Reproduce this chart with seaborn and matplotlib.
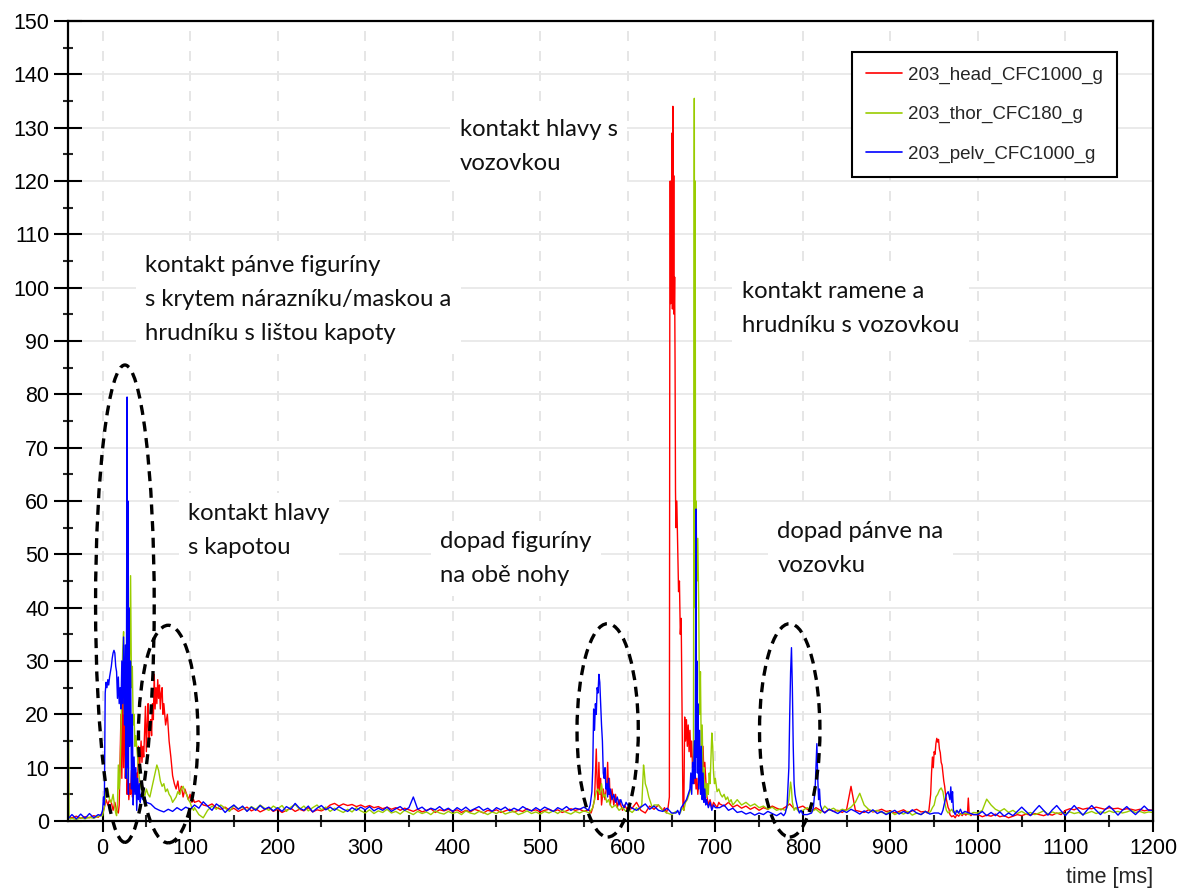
import numpy as np
import pandas as pd
import matplotlib
matplotlib.use("Agg")
import matplotlib.pyplot as plt
import seaborn as sns
from matplotlib.patches import Ellipse
from matplotlib.lines import Line2D
from matplotlib.ticker import MultipleLocator

# ---------------------------------------------------------------------------
# Channels of crash test 203 (acceleration in g versus time in ms)
# ---------------------------------------------------------------------------
CHANNELS = ["203_head_CFC1000_g", "203_thor_CFC180_g", "203_pelv_CFC1000_g"]
COLORS = ["#ff0000", "#99cc00", "#0000ff"]

# Background signal sampled every 5 ms from -40 ms to 1200 ms (one row per 100 ms)
RED_BASE = [
    [0.8, 0.6, 0.9, 0.5, 0.8, 0.6, 1.0, 0.7],
    [2.5, 3.5, 4.0, 3.0, 10.0, 8.0, 6.0, 12.0, 15.0, 18.0, 22.0, 26.0, 24.0, 20.0, 15.0, 10.0, 7.0, 6.0, 5.0, 5.0],
    [4.0, 3.5, 3.8, 3.0, 2.8, 3.2, 2.5, 2.2, 2.6, 2.0, 2.4, 1.8, 2.2, 2.6, 1.9, 2.3, 1.7, 2.1, 2.5, 1.8],
    [2.2, 1.6, 2.0, 2.4, 1.8, 2.2, 1.9, 2.5, 1.7, 2.1, 1.9, 2.3, 3.0, 3.3, 2.8, 3.2, 2.9, 3.1, 2.7, 3.0],
    [2.6, 2.9, 2.5, 2.7, 2.3, 2.6, 2.2, 2.5, 2.0, 2.4, 2.1, 1.8, 2.2, 1.7, 2.0, 2.3, 1.6, 2.1, 1.9, 2.2],
    [1.8, 2.1, 1.6, 2.0, 1.7, 2.2, 1.9, 1.5, 2.0, 1.8, 2.1, 1.6, 1.9, 2.2, 1.7, 2.0, 1.8, 2.3, 1.9, 2.1],
    [1.7, 2.0, 2.2, 1.8, 2.1, 1.6, 1.9, 2.3, 2.0, 2.2, 1.8, 2.1, 2.4, 1.9, 2.2, 2.0, 2.6, 2.3, 2.0, 2.5],
    [3.0, 2.4, 3.5, 2.0, 1.5, 2.8, 2.2, 3.0, 2.5, 1.8, 2.6, 2.2, 2.8, 2.3, 2.9, 3.0, 2.5, 3.0, 2.8, 3.2],
    [4.0, 3.2, 2.8, 3.5, 2.6, 3.0, 2.4, 2.8, 2.2, 2.6, 2.0, 2.5, 2.2, 2.8, 2.4, 2.1, 2.6, 3.2, 2.3, 2.5],
    [2.8, 2.2, 1.8, 2.5, 2.0, 1.6, 2.2, 1.8, 2.0, 1.6, 2.2, 6.5, 2.0, 1.8, 1.6, 2.1, 1.7, 1.9, 2.2, 1.8],
    [1.9, 1.5, 1.8, 2.1, 1.6, 1.9, 2.2, 1.7, 2.0, 1.6, 2.0, 1.5, 1.2, 1.0, 0.8, 1.2, 0.9, 1.4, 1.0, 1.2],
    [1.2, 0.8, 1.1, 0.9, 1.3, 0.8, 1.0, 0.6, 0.9, 1.2, 1.0, 1.3, 1.1, 1.4, 1.2, 1.0, 1.3, 1.1, 1.5, 1.2],
    [2.0, 2.3, 2.1, 2.5, 2.2, 2.4, 2.3, 2.6, 2.4, 2.2, 2.5, 2.3, 2.4, 2.1, 2.3, 2.2, 2.0, 2.2, 1.9, 2.1],
    [2.0],
]
GREEN_BASE = [
    [0.5, 0.5, 0.3, 0.6, 0.4, 0.7, 0.5, 0.9],
    [1.0, 6.0, 3.5, 2.0, 9.0, 20.0, 30.0, 18.0, 8.0, 5.5, 6.0, 5.0, 9.0, 7.5, 6.0, 5.0, 4.0, 5.5, 6.0, 5.0],
    [3.5, 2.5, 1.2, 0.6, 2.0, 2.8, 2.2, 3.0, 2.4, 1.8, 2.9, 2.3, 2.6, 1.9, 2.7, 2.2, 3.0, 2.4, 2.0, 2.8],
    [2.3, 2.9, 1.8, 2.6, 3.1, 2.2, 2.8, 1.9, 2.5, 3.0, 2.1, 2.6, 1.8, 2.4, 2.0, 1.6, 2.2, 1.7, 2.5, 1.9],
    [1.5, 2.1, 1.4, 1.9, 1.6, 2.2, 1.5, 1.8, 1.3, 2.0, 1.6, 1.2, 1.8, 1.4, 1.7, 1.2, 1.9, 1.5, 1.3, 1.8],
    [1.4, 1.7, 1.2, 1.9, 1.5, 1.3, 1.8, 1.6, 1.2, 1.7, 1.4, 1.9, 1.3, 1.6, 1.8, 1.2, 1.5, 1.9, 1.4, 1.7],
    [1.3, 1.8, 1.5, 1.9, 1.4, 2.0, 1.6, 1.3, 1.8, 1.5, 1.9, 1.6, 2.0, 1.7, 2.2, 1.8, 2.4, 2.0, 1.8, 2.2],
    [2.2, 1.6, 2.5, 1.8, 3.5, 2.5, 5.0, 3.0, 2.0, 1.5, 1.2, 1.8, 1.5, 2.2, 3.0, 4.5, 6.0, 8.0, 7.0, 5.0],
    [6.0, 5.0, 4.5, 5.0, 3.5, 4.0, 3.0, 3.5, 2.8, 3.2, 2.5, 2.8, 2.2, 2.6, 2.0, 2.3, 1.8, 2.2, 1.6, 1.9],
    [2.0, 2.5, 1.8, 2.2, 1.5, 2.8, 2.0, 2.4, 1.8, 2.2, 2.0, 2.6, 3.5, 5.2, 3.0, 2.2, 1.8, 2.0, 1.6, 1.4],
    [1.8, 1.2, 1.6, 1.3, 1.8, 1.1, 1.5, 1.2, 1.8, 1.4, 1.6, 2.5, 5.0, 6.0, 3.0, 1.5, 1.2, 1.5, 1.2, 1.6],
    [1.5, 2.0, 4.1, 3.0, 2.2, 1.8, 2.3, 1.6, 2.0, 1.4, 1.8, 1.3, 1.6, 1.2, 1.5, 1.9, 1.3, 1.7, 1.4, 1.6],
    [1.3, 1.7, 1.4, 1.6, 1.2, 1.5, 1.8, 1.4, 1.7, 1.5, 1.9, 1.6, 1.8, 1.5, 1.7, 2.0, 1.6, 1.8, 1.5, 1.7],
    [1.6],
]
BLUE_BASE = [
    [0.3, 1.2, 0.4, 1.3, 0.5, 1.4, 0.6, 1.2],
    [2.0, 25.0, 30.0, 30.0, 22.0, 30.0, 8.0, 5.0, 4.0, 3.8, 3.5, 3.2, 2.4, 2.0, 1.7, 2.2, 1.8, 2.5, 2.0, 2.6],
    [2.2, 3.0, 2.4, 3.6, 2.8, 2.0, 3.2, 2.6, 1.6, 2.4, 3.0, 2.2, 2.8, 1.8, 2.6, 2.0, 2.9, 2.2, 2.6, 1.9],
    [2.5, 1.8, 2.7, 2.2, 3.3, 2.4, 2.0, 2.8, 1.7, 2.4, 2.9, 2.1, 2.6, 2.0, 2.7, 2.2, 1.8, 2.5, 2.0, 2.6],
    [2.1, 2.7, 1.9, 2.4, 2.0, 2.6, 1.8, 2.3, 2.7, 2.0, 2.5, 4.5, 2.2, 2.6, 1.9, 2.4, 2.1, 2.7, 2.0, 2.4],
    [1.8, 2.5, 2.0, 2.6, 1.9, 2.3, 2.7, 2.0, 2.4, 1.8, 2.5, 2.1, 2.6, 1.9, 2.4, 2.0, 2.7, 2.2, 1.9, 2.5],
    [2.0, 2.6, 2.2, 1.8, 2.5, 2.1, 2.7, 2.0, 2.4, 2.2, 2.6, 2.0, 5.0, 25.0, 10.0, 6.0, 4.0, 3.5, 3.0, 2.8],
    [3.0, 2.4, 2.0, 2.6, 3.2, 2.2, 2.8, 2.0, 1.8, 2.4, 1.5, 2.0, 1.2, 1.8, 3.0, 7.0, 12.0, 5.0, 3.0, 2.5],
    [3.5, 2.5, 3.0, 2.0, 2.4, 1.6, 1.8, 1.3, 1.6, 1.1, 1.5, 1.2, 1.8, 1.4, 1.0, 1.5, 2.0, 20.0, 5.0, 1.5],
    [2.0, 1.2, 2.2, 14.0, 3.0, 1.5, 2.2, 1.8, 1.4, 2.0, 1.6, 2.2, 1.8, 1.3, 1.9, 1.5, 2.1, 1.4, 1.8, 1.2],
    [1.6, 2.0, 1.3, 1.8, 1.4, 2.1, 1.5, 1.2, 1.8, 1.3, 1.5, 1.0, 4.0, 5.0, 2.0, 1.0, 1.6, 0.9, 1.5, 1.2],
    [1.2, 1.8, 1.0, 1.6, 1.0, 1.7, 0.9, 1.5, 1.0, 1.8, 2.6, 1.8, 1.0, 2.0, 2.9, 2.0, 1.1, 2.1, 2.9, 1.9],
    [1.0, 2.0, 2.9, 2.0, 1.1, 2.1, 2.9, 2.0, 1.2, 2.1, 2.8, 2.0, 1.1, 2.0, 2.7, 1.9, 1.2, 2.0, 2.8, 2.0],
    [2.0],
]

# Impact phases recorded at finer resolution: (time ms, acceleration g)
RED_HOOD = [(0, 1.5), (2, 2.5), (4, 4.0), (6, 3.0), (8, 4.0), (10, 3.5), (12, 2.0), (14, 3.5), (16, 2.0),
            (18, 1.5), (19, 3.0), (20, 12.0), (21, 20.0), (22, 8.0), (23, 25.5), (24, 10.0), (25, 26.0),
            (26, 8.0), (27, 14.0), (28, 5.0), (29, 9.0), (30, 4.0), (31, 7.0), (32, 5.0), (33, 9.5),
            (34, 4.5), (35, 8.0), (36, 5.5), (37, 10.0), (38, 6.0), (39, 9.0), (40, 7.0), (41, 14.0),
            (42, 9.0), (43, 12.0), (44, 15.0), (45, 11.0), (46, 14.0), (47, 12.0), (48, 17.0), (49, 21.5),
            (50, 13.0), (51, 18.0), (52, 22.0), (53, 14.0), (54, 17.5), (55, 19.0), (56, 16.0), (57, 22.0),
            (58, 19.0), (59, 27.5), (60, 21.0), (61, 25.0), (62, 22.0), (63, 26.5), (64, 23.0), (65, 25.5),
            (66, 21.0), (67, 24.0), (68, 25.0), (69, 20.0), (70, 22.0), (72, 18.0), (74, 20.0), (76, 15.0),
            (78, 12.0), (80, 8.5), (82, 7.0), (84, 6.0), (86, 7.5), (88, 5.0), (90, 6.5), (92, 4.5),
            (94, 6.0), (96, 5.0), (98, 4.0), (100, 5.0), (102, 3.5), (104, 4.0)]
RED_LEGS = [(556, 2.0), (558, 1.5), (560, 2.5), (562, 4.0), (564, 13.5), (565, 7.0), (566, 4.0), (567, 11.0),
            (568, 5.0), (569, 8.0), (570, 3.0), (572, 6.0), (574, 4.0), (576, 7.0), (577, 11.0), (578, 5.0),
            (579, 8.0), (580, 3.0), (582, 6.0), (584, 3.0), (586, 5.0), (588, 2.5), (590, 4.0), (592, 3.0),
            (594, 2.0), (596, 3.0), (598, 2.5), (600, 2.0)]
RED_HEAD_ROAD = [(640, 2.0), (642, 2.5), (644, 1.5), (646, 2.5), (647.5, 4.5), (648, 94), (648.5, 120),
                 (649, 97), (649.5, 118), (650, 100), (650.5, 129), (651, 96), (651.5, 134), (652, 98),
                 (652.5, 121), (653, 95), (653.5, 102), (654, 86), (654.5, 62), (655, 55), (656, 60),
                 (657, 52), (658, 43), (659, 45), (660, 35), (661, 38), (662, 20), (663, 3.0), (664, 2.0),
                 (665, 19.5), (666, 15), (667, 19), (668, 14), (669, 18), (670, 13), (671, 17), (672, 12),
                 (673, 15), (674, 10), (675, 12), (676, 7), (677, 9), (678, 6), (679, 8), (680, 5), (682, 9),
                 (684, 6), (686, 14), (687, 8), (688, 11), (690, 5), (692, 3), (694, 4), (696, 2.5),
                 (698, 3.5), (700, 3.0), (702, 2.5), (704, 3.5)]
RED_LATE = [(940, 1.8), (942, 1.5), (944, 2.0), (946, 5.0), (947, 9.0), (948, 12.0), (949, 10.0), (950, 13.0),
            (951, 12.5), (952, 14.5), (953, 15.5), (954, 14.8), (955, 15.3), (956, 13.5), (957, 12.8),
            (958, 11.0), (959, 10.5), (960, 9.0), (961, 7.5), (962, 6.5), (963, 5.0), (964, 4.0), (965, 3.2),
            (966, 2.5), (967, 2.2), (968, 1.2), (970, 0.8), (972, 1.0), (974, 0.6), (976, 1.2), (978, 0.9),
            (980, 1.4), (982, 1.0), (984, 1.5), (986, 1.1), (988, 1.3), (989, 4.3), (990, 1.4), (992, 1.0),
            (994, 1.3)]

GREEN_START = [(-39.5, 15.0), (-38.8, 15.2), (-38.3, 1.0), (-37, 0.4)]
GREEN_HOOD = [(0, 1.0), (2, 2.5), (4, 5.5), (6, 6.0), (8, 4.0), (10, 3.5), (12, 5.0), (14, 2.5), (15, 1.5),
              (16, 1.0), (17, 3.0), (18, 10.5), (19, 6.0), (20, 9.0), (21, 17.0), (22, 26.0), (23, 32.0),
              (24, 35.5), (25, 20.0), (26, 28.0), (27, 12.0), (28, 18.0), (29, 8.0), (30, 22.0), (31, 30.0),
              (32, 46.0), (33, 25.0), (34, 29.0), (35, 18.0), (36, 20.0), (37, 14.0), (38, 16.0), (40, 12.0),
              (42, 8.0), (44, 6.0), (46, 5.5), (48, 4.5), (50, 6.0), (52, 5.0), (54, 4.5), (56, 6.0),
              (58, 7.5), (60, 9.0), (62, 10.5), (64, 9.5), (66, 7.5), (68, 6.5), (70, 7.0), (72, 5.5),
              (74, 6.0), (76, 5.0), (78, 4.5), (80, 3.5), (82, 4.0), (84, 4.5), (86, 5.5), (88, 5.0),
              (90, 6.0), (92, 6.5), (94, 5.5), (96, 5.0), (98, 4.0), (100, 3.5), (102, 2.5), (104, 2.0)]
GREEN_LEGS = [(556, 1.5), (560, 2.5), (562, 4.0), (564, 5.5), (566, 6.0), (568, 5.0), (570, 7.0), (572, 4.5),
              (574, 5.0), (576, 3.5), (578, 4.0), (580, 3.0), (582, 2.5), (586, 3.0), (590, 2.0), (594, 2.5),
              (598, 1.8)]
GREEN_618 = [(612, 2.0), (614, 2.5), (616, 3.0), (618, 10.5), (619, 9.0), (620, 7.0), (622, 6.0), (624, 4.5),
             (626, 3.5), (628, 2.5), (630, 3.0)]
GREEN_SHOULDER = [(660, 1.5), (662, 2.5), (664, 2.0), (666, 3.5), (668, 4.0), (670, 5.0), (672, 6.0),
                  (674, 8.0), (675, 10.0), (676, 135.5), (676.5, 40), (677, 120), (677.5, 30), (678, 60),
                  (679, 45), (680, 53), (681, 41), (682, 20), (683, 28), (684, 12), (685, 18), (686, 8),
                  (687, 10), (688, 5), (689, 7), (690, 4.5), (691, 7), (692, 5), (693, 9), (694, 7),
                  (695, 12), (696, 16.5), (697, 14), (698, 9), (699, 7), (700, 8), (702, 5.5), (704, 6),
                  (706, 5), (708, 4.5), (710, 5), (712, 4), (714, 4.5), (716, 3.5), (718, 4), (720, 3)]
GREEN_PELVIS = [(780, 2.0), (782, 2.5), (784, 4.0), (786, 7.3), (787, 6.0), (788, 3.5), (790, 2.0),
                (792, 2.5), (795, 1.8)]
GREEN_LATE = [(944, 1.5), (946, 1.8), (948, 2.5), (950, 3.0), (952, 4.5), (954, 5.0), (956, 5.8), (958, 6.2),
              (960, 5.5), (962, 3.5), (964, 2.0), (966, 1.5), (968, 1.8), (970, 2.2), (972, 1.6), (975, 1.9)]

BLUE_BUMPER = [(-2, 1.0), (0, 2.0), (1, 4.5), (2, 3.0), (3, 24.0), (4, 26.0), (5, 25.0), (6, 26.5),
               (7, 25.5), (8, 27.0), (9, 28.0), (10, 29.0), (11, 30.5), (12, 31.5), (13, 32.0), (14, 31.5),
               (15, 29.0), (16, 28.0), (17, 23.0), (18, 27.0), (19, 22.0), (20, 25.0), (21, 21.0), (22, 30.0),
               (23, 22.0), (24, 34.5), (25, 18.0), (26, 33.0), (27, 8.0), (28, 79.5), (28.5, 10.0),
               (29, 60.0), (29.5, 5.0), (30, 40.0), (31, 14.0), (32, 30.0), (33, 6.0), (34, 20.0), (35, 3.0),
               (36, 12.0), (37, 5.0), (38, 10.0), (39, 2.0), (40, 8.0), (41, 4.0), (42, 7.0), (43, 3.5),
               (44, 5.0), (46, 4.0), (48, 4.5)]
BLUE_LEGS = [(555, 2.0), (557, 3.0), (559, 5.5), (560, 10.0), (561, 21.0), (562, 17.0), (563, 22.0),
             (564, 20.0), (565, 25.0), (566, 24.0), (567, 27.5), (568, 26.0), (569, 22.0), (570, 18.0),
             (571, 15.0), (572, 9.0), (573, 8.0), (574, 10.0), (575, 6.0), (576, 7.0), (577, 4.5), (578, 8.0),
             (579, 5.0), (580, 6.0), (582, 4.0), (584, 5.0), (586, 3.5), (588, 4.5), (590, 3.0), (592, 4.0),
             (594, 3.0), (596, 2.5), (598, 3.5), (600, 3.0)]
BLUE_SHOULDER = [(655, 1.5), (657, 2.0), (659, 1.2), (661, 2.5), (663, 3.0), (665, 3.5), (667, 4.0),
                 (669, 5.0), (671, 6.0), (672, 9.0), (673, 5.0), (674, 11.0), (675, 7.0), (676, 15.0),
                 (677, 8.0), (678, 58.5), (678.5, 12.0), (679, 30.0), (679.5, 9.0), (680, 22.0), (681, 6.0),
                 (682, 17.0), (683, 5.0), (684, 14.0), (685, 4.0), (686, 9.0), (687, 3.5), (688, 6.0),
                 (689, 3.0), (690, 4.0), (692, 2.5), (694, 3.5), (696, 2.0), (698, 3.0), (700, 2.5)]
BLUE_PELVIS = [(778, 1.0), (780, 1.5), (782, 3.0), (784, 10.0), (785, 20.0), (786, 28.0), (787, 32.5),
               (788, 25.0), (789, 14.0), (790, 7.0), (791, 5.0), (792, 4.0), (794, 2.5), (796, 1.5),
               (798, 2.0), (800, 1.2)]
BLUE_816 = [(810, 1.5), (812, 2.5), (814, 6.0), (815, 10.0), (816, 14.5), (817, 8.0), (818, 4.0), (819, 6.0),
            (820, 3.0), (822, 2.0)]
BLUE_LATE = [(955, 1.5), (958, 1.2), (960, 2.0), (962, 3.5), (964, 5.0), (966, 5.5), (968, 4.0), (969, 6.4),
             (970, 3.5), (971, 5.5), (972, 2.0), (974, 1.2), (976, 2.0), (978, 1.5), (980, 2.2), (982, 1.4),
             (985, 1.8)]

# Annotation texts and the dashed ellipses around the impact phases
NOTES = [
    ("kontakt hlavy s\nvozovkou", 408, 126.5),
    ("kontakt pánve figuríny\ns krytem nárazníku/maskou a\nhrudníku s lištou kapoty", 49, 97.8),
    ("kontakt ramene a\nhrudníku s vozovkou", 730, 96.1),
    ("kontakt hlavy\ns kapotou", 98, 54.5),
    ("dopad figuríny\nna obě nohy", 386, 49.2),
    ("dopad pánve na\nvozovku", 771, 51.1),
]
ELLIPSES = [  # (centre time, centre g, width ms, height g)
    (25.5, 40.75, 67, 89.5),
    (75.0, 16.3, 68, 40.8),
    (577, 17.0, 70, 40.0),
    (785, 17.0, 69, 40.0),
]


def build(base_rows, events):
    base_v = np.concatenate([np.asarray(r, float) for r in base_rows])
    base_t = np.arange(-40, 1201, 5, dtype=float)
    keep = np.ones(base_t.size, bool)
    ts, vs = [], []
    for ev in events:
        et, evv = np.array(ev, float).T
        keep &= ~((base_t >= et.min()) & (base_t <= et.max()))
        ts.append(et)
        vs.append(evv)
    t = np.concatenate([base_t[keep]] + ts)
    v = np.concatenate([base_v[keep]] + vs)
    order = np.argsort(t, kind="stable")
    return t[order], v[order]


series = {
    CHANNELS[0]: build(RED_BASE, [RED_HOOD, RED_LEGS, RED_HEAD_ROAD, RED_LATE]),
    CHANNELS[1]: build(GREEN_BASE, [GREEN_START, GREEN_HOOD, GREEN_LEGS, GREEN_618, GREEN_SHOULDER,
                                    GREEN_PELVIS, GREEN_LATE]),
    CHANNELS[2]: build(BLUE_BASE, [BLUE_BUMPER, BLUE_LEGS, BLUE_SHOULDER, BLUE_PELVIS, BLUE_816, BLUE_LATE]),
}
df = pd.concat(
    [pd.DataFrame({"time": t, "acc": v, "channel": name}) for name, (t, v) in series.items()],
    ignore_index=True,
)

sns.set_theme(style="white")
plt.rcParams["font.family"] = ["Liberation Sans", "DejaVu Sans"]

fig = plt.figure(figsize=(11.81, 8.92), dpi=100)
ax = fig.add_axes([68 / 1181, 71 / 892, 1085 / 1181, 800 / 892])

sns.lineplot(data=df, x="time", y="acc", hue="channel", hue_order=CHANNELS,
             palette=dict(zip(CHANNELS, COLORS)), estimator=None, sort=True,
             linewidth=1.0, legend=False, ax=ax)

ax.set_xlim(-39.5, 1200)
ax.set_ylim(0, 150)
ax.set_xlabel("")
ax.set_ylabel("")
ax.xaxis.set_major_locator(MultipleLocator(100))
ax.xaxis.set_minor_locator(MultipleLocator(50))
ax.yaxis.set_major_locator(MultipleLocator(10))
ax.yaxis.set_minor_locator(MultipleLocator(5))

ax.set_axisbelow(True)
ax.yaxis.grid(True, which="major", color="#e6e6e6", linewidth=1.2, linestyle="-")
ax.xaxis.grid(True, which="major", color="#e2e2e2", linewidth=1.2, linestyle=(0, (6, 6)))

for side in ["left", "right", "top", "bottom"]:
    ax.spines[side].set_visible(True)
    ax.spines[side].set_color("black")
    ax.spines[side].set_linewidth(1.6)

ax.tick_params(axis="y", which="major", direction="inout", length=20, width=1.5,
               pad=3.5, labelsize=15.5, colors="black", left=True)
ax.tick_params(axis="y", which="minor", direction="inout", length=7.5, width=1.5, left=True)
ax.tick_params(axis="x", which="major", direction="inout", length=16, width=1.5,
               pad=4, labelsize=15.5, colors="black", bottom=True)
ax.tick_params(axis="x", which="minor", direction="inout", length=9, width=1.5, bottom=True)

ax.text(1.0, -0.058, "time [ms]", transform=ax.transAxes, ha="right", va="top", fontsize=15.5)

for text, x, y in NOTES:
    ax.text(x, y, text, ha="left", va="center", fontsize=17.2, family=["Lato", "DejaVu Sans"],
            color="#111111", linespacing=1.78, zorder=4,
            bbox=dict(boxstyle="square,pad=0.4", facecolor="white", edgecolor="none"))

for cx, cy, w, h in ELLIPSES:
    ax.add_patch(Ellipse((cx, cy), w, h, fill=False, edgecolor="black", linewidth=2.4,
                         linestyle=(0, (3, 2)), clip_on=False, zorder=6))

handles = [Line2D([], [], color=c, linewidth=1.2) for c in COLORS]
leg = ax.legend(handles, CHANNELS, loc="upper right", bbox_to_anchor=(0.967, 0.961),
                frameon=True, fancybox=False, edgecolor="black", fontsize=13.5,
                handlelength=1.9, handletextpad=0.35, labelspacing=1.2, borderpad=0.75,
                borderaxespad=0.0)
leg.get_frame().set_linewidth(1.5)
leg.get_frame().set_facecolor("white")
leg.get_frame().set_alpha(1.0)

fig.savefig("out.png", dpi=100)
